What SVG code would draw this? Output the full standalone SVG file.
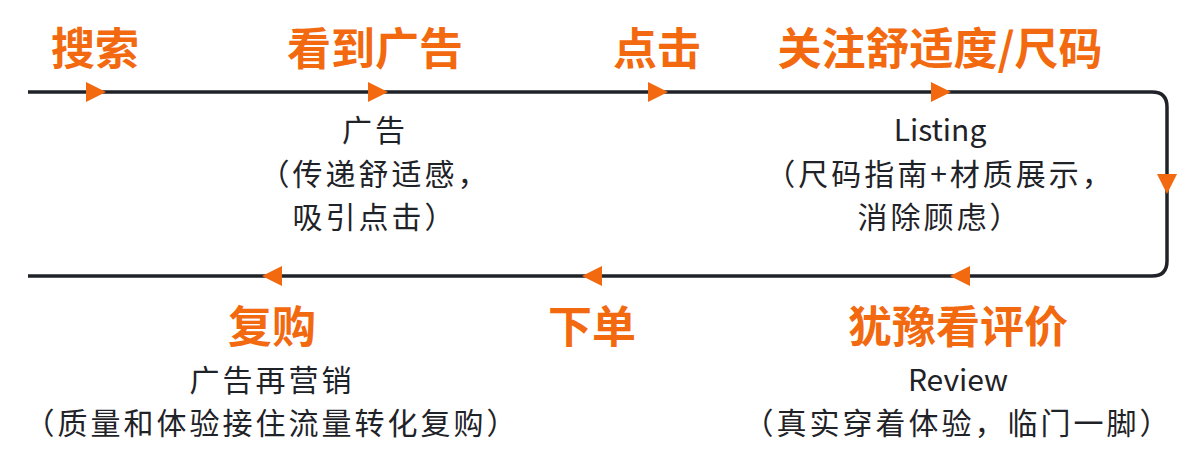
<svg xmlns="http://www.w3.org/2000/svg" width="1200" height="467" viewBox="0 0 1200 467">
<style>
.h{font-family:"Noto Sans CJK SC","Noto Sans",sans-serif;font-size:44px;font-weight:bold;fill:#f2690f;text-anchor:middle}
.t{font-family:"Noto Sans CJK SC","Noto Sans",sans-serif;font-size:30px;letter-spacing:3px;fill:#1f2328;text-anchor:middle}
.a{fill:#f2690f}
</style>
<rect width="1200" height="467" fill="#fff"/>
<g id="connectors">
<path d="M28 92 H1152 Q1167 92 1167 107 V261 Q1167 276 1152 276 H28" fill="none" stroke="#1f2328" stroke-width="3.5"/>
<path class="a" d="M86 82 L106 92 L86 102Z"/>
<path class="a" d="M368 82 L388 92 L368 102Z"/>
<path class="a" d="M648 82 L668 92 L648 102Z"/>
<path class="a" d="M931 82 L951 92 L931 102Z"/>
<path class="a" d="M1157 174 L1177 174 L1167 194Z"/>
<path class="a" d="M970 266 L950 276 L970 286Z"/>
<path class="a" d="M602 266 L582 276 L602 286Z"/>
<path class="a" d="M282 266 L262 276 L282 286Z"/>
</g>
<g id="n1"><text class="h" x="95" y="65">搜索</text></g>
<g id="n2"><text class="h" x="375" y="65">看到广告</text>
<text class="t" x="375" y="141">广告</text><text class="t" x="375" y="185">（传递舒适感，</text><text class="t" x="375" y="228">吸引点击）</text></g>
<g id="n3"><text class="h" x="657" y="65">点击</text></g>
<g id="n4"><text class="h" x="940" y="65">关注舒适度/尺码</text>
<text class="t" x="940" y="141" style="letter-spacing:0">Listing</text><text class="t" x="940" y="185">（尺码指南+材质展示，</text><text class="t" x="940" y="228">消除顾虑）</text></g>
<g id="n5"><text class="h" x="958" y="343">犹豫看评价</text>
<text class="t" x="958" y="391" style="letter-spacing:0">Review</text><text class="t" x="958" y="434">（真实穿着体验，临门一脚）</text></g>
<g id="n6"><text class="h" x="592" y="343">下单</text></g>
<g id="n7"><text class="h" x="272" y="343">复购</text>
<text class="t" x="272" y="391">广告再营销</text><text class="t" x="272" y="434">（质量和体验接住流量转化复购）</text></g>
</svg>
